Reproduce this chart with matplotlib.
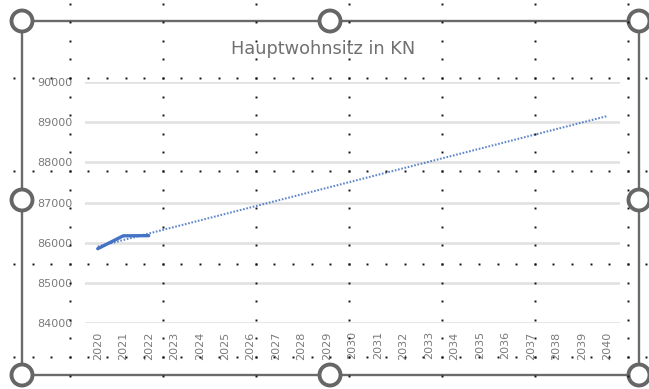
import numpy as np
import matplotlib
matplotlib.use("Agg")
import matplotlib.pyplot as plt
from matplotlib.patches import Circle

# ---- data ----
years = [str(y) for y in range(2020, 2041)]
actual_years = ["2020", "2021", "2022"]
actual_values = [85850, 86170, 86175]
y_ticks = [84000, 85000, 86000, 87000, 88000, 89000, 90000]
title = "Hauptwohnsitz in KN"

W, H = 649, 389
fig = plt.figure(figsize=(W / 100, H / 100), dpi=100)
fig.patch.set_facecolor("white")

def fx(px):
    return px / W

def fy(py):
    return 1 - py / H

# plot area
left, right, top, bottom = 85, 620, 82, 323
ax = fig.add_axes([fx(left), fy(bottom), fx(right - left), (bottom - top) / H])
ax.set_facecolor("none")
xpos = np.arange(len(years))
ax.set_xlim(-0.5, len(years) - 0.5)
ax.set_ylim(84000, 90000)
ax.set_yticks(y_ticks)
ax.set_yticklabels([str(v) for v in y_ticks])
ax.set_xticks(xpos)
ax.set_xticklabels(years, rotation=90)
ax.tick_params(axis="both", length=0, labelsize=8, colors="#7a7a7a")
ax.tick_params(axis="y", pad=9)
ax.tick_params(axis="x", pad=6)
for s in ax.spines.values():
    s.set_visible(False)
ax.grid(axis="y", color="#e0e0e0", linewidth=1.8)
ax.set_axisbelow(True)

# actual series
ax_x = [years.index(y) for y in actual_years]
ax.plot(ax_x, actual_values, color="#4472C4", linewidth=2.4, solid_capstyle="round", zorder=3)
# linear trendline (Excel linear trend) over actual data, extended to 2040
coef = np.polyfit(ax_x, actual_values, 1)
tx = np.array([0, len(years) - 1])
ax.plot(tx, np.polyval(coef, tx), color="#4472C4", linewidth=1.5, linestyle=(0, (0.8, 0.8)), zorder=2, alpha=0.85)

# title
fig.text(fx(323), fy(49), title, ha="center", va="center", fontsize=12.8, color="#707070")

# overlay for selection frame, handles, worksheet dots
ov = fig.add_axes([0, 0, 1, 1])
ov.set_xlim(0, W)
ov.set_ylim(H, 0)
ov.axis("off")
ov.set_facecolor("none")

bx0, by0, bx1, by1 = 22, 21, 639, 375
ov.plot([bx0, bx1, bx1, bx0, bx0], [by0, by0, by1, by1, by0], color="#6a6a6a", linewidth=1.7, zorder=5)

# worksheet dotted gridlines
cols = [70 + 93 * k for k in range(7)]
rows = [78 + 93 * k for k in range(4)]
step = 18.6
dx, dy = [], []
for r in rows:
    xs = np.arange(14, W, step)
    dx.extend(xs)
    dy.extend([r] * len(xs))
for c in cols:
    ys = np.arange(3.6, H, step)
    dx.extend([c] * len(ys))
    dy.extend(ys)
ov.plot(dx, dy, linestyle="none", marker="s", markersize=1.4, color="#111111", markeredgewidth=0, zorder=7)

# handles
mx = (bx0 + bx1) / 2 - 0.5
my = (by0 + by1) / 2 + 2
for cx, cy in [(bx0, by0), (mx, by0), (bx1, by0), (bx0, my), (bx1, my), (bx0, by1), (mx, by1), (bx1, by1)]:
    ov.add_patch(Circle((cx, cy), 10.5, facecolor="white", edgecolor="#666666", linewidth=2.8, zorder=6))

fig.savefig("out.png", dpi=100)
